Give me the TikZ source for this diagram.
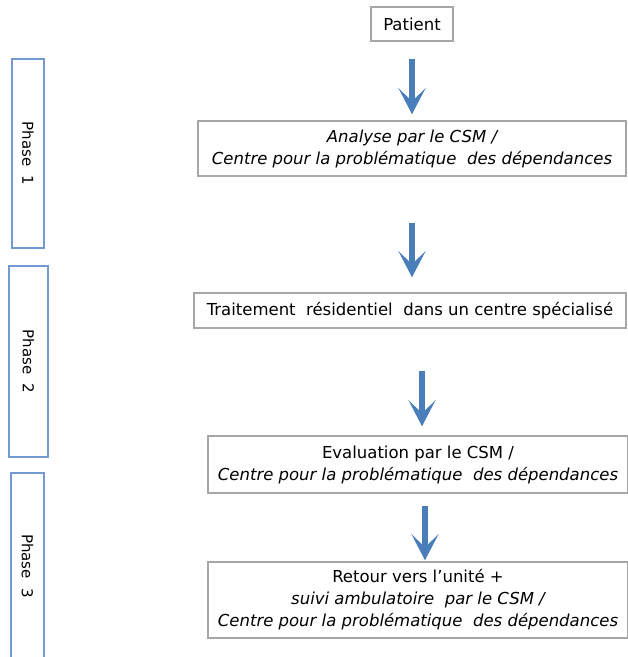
\documentclass[tikz,border=0pt]{standalone}
\usepackage{fontspec}
\setmainfont{DejaVu Sans}
\usetikzlibrary{arrows.meta,calc}
\definecolor{boxgray}{HTML}{A6A6A6}
\definecolor{phaseblue}{HTML}{7399D0}
\definecolor{arrowblue}{HTML}{4A7EBB}
\tikzset{
  stepbox/.style={draw=boxgray, line width=1.5pt, fill=white, inner sep=0pt, align=center,
    font=\fontsize{16.5}{22}\selectfont},
  phasebox/.style={draw=phaseblue, line width=1.8pt, inner sep=0pt},
  phaselabel/.style={rotate=-90, font=\fontsize{15}{18}\selectfont},
  bigarrow/.style={draw=arrowblue, line width=6.5pt, -{Stealth[length=26pt,width=27pt,inset=13pt]}}
}
\begin{document}
\begin{tikzpicture}[x=1pt,y=-1pt]
\useasboundingbox[fill=white] (0,0) rectangle (628,657);
% step boxes
\node[stepbox, minimum width=82pt, minimum height=34pt] (P) at (412,24) {Patient};
\node[stepbox, minimum width=428pt, minimum height=55pt] (A) at (412,148.5)
  {\itshape Analyse par le CSM /\\\itshape Centre pour la problématique\ \ des dépendances};
\node[stepbox, minimum width=432pt, minimum height=35pt] (T) at (410,310.5)
  {Traitement\ \ résidentiel\ \ dans un centre spécialisé};
\node[stepbox, minimum width=420pt, minimum height=57pt] (E) at (418,464.5)
  {Evaluation par le CSM /\\\itshape Centre pour la problématique\ \ des dépendances};
\node[stepbox, minimum width=420pt, minimum height=76pt] (R) at (418,600)
  {Retour vers l’unité +\\\itshape suivi ambulatoire\ \ par le CSM /\\\itshape Centre pour la problématique\ \ des dépendances};
% phase boxes
\node[phasebox, minimum width=32pt, minimum height=189pt] (Ph1) at (28,153.5) {};
\node[phaselabel] (L1) at (Ph1.center) {Phase\ \ 1};
\node[phasebox, minimum width=39pt, minimum height=191pt] (Ph2) at (28.5,361.5) {};
\node[phaselabel] (L2) at (Ph2.center) {Phase\ \ 2};
\node[phasebox, minimum width=33pt, minimum height=192pt] (Ph3) at (27.5,569) {};
\node[phaselabel] (L3) at (27.5,566) {Phase\ \ 3};
% arrows
\draw[bigarrow] ($(P.south)+(0,17)$) -- ($(A.north)+(0,-6)$);
\draw[bigarrow] ($(A.south)+(0,46)$) -- ($(T.north)+(2,-15)$);
\draw[bigarrow] ($(T.south)+(12,42)$) -- ($(E.north)+(4,-9)$);
\draw[bigarrow] ($(E.south)+(7,12)$) -- ($(R.north)+(7,-1)$);
\end{tikzpicture}
\end{document}
